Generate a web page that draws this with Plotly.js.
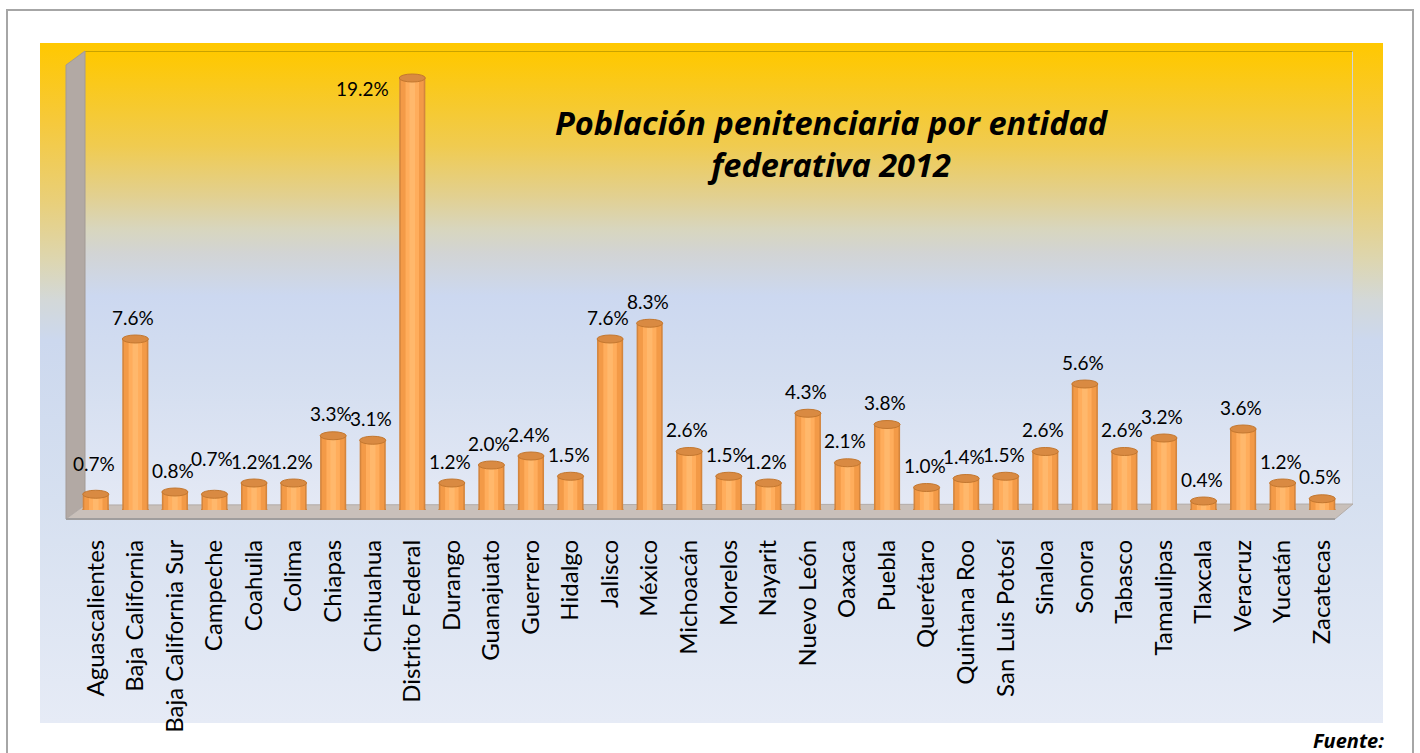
<!DOCTYPE html>
<html>
<head>
<meta charset="utf-8">
<script src="https://cdn.plot.ly/plotly-3.0.1.min.js"></script>
<style>
  html, body { margin: 0; padding: 0; background: #ffffff; }
  #frame { position: absolute; left: 6px; top: 9px; width: 1408px; height: 760px; border: 2px solid #a6a6a6; box-sizing: border-box; }
  #outerbg { position: absolute; left: 40px; top: 43px; width: 1343px; height: 680px;
    background: linear-gradient(to bottom, #ffc800 0px, #f6c93a 77px, #e9cf78 157px, #ddd6b0 217px, #d3d8d8 257px, #ccd8ee 297px, #d6e0f0 457px, #e6ebf6 680px); }
  #wallbg { position: absolute; left: 85px; top: 51px; width: 1268px; height: 454px;
    background: linear-gradient(to bottom, #ffc800 0px, #f0cb50 94px, #e2d090 144px, #d8d6be 177px, #d2d4d4 201px, #ccd8f0 244px, #d4def0 327px, #e4e9f5 454px);
    border-top: 1px solid #c9a200; border-right: 1px solid #cfd3da; box-sizing: border-box; }
  #chart { position: absolute; left: 0; top: 0; width: 1420px; height: 753px; }
</style>
</head>
<body>
<div id="frame"></div>
<div id="outerbg"></div>
<div id="wallbg"></div>
<div id="chart"></div>
<script>
// ---- data ----
const states = ["Aguascalientes", "Baja California", "Baja California Sur", "Campeche", "Coahuila", "Colima",
  "Chiapas", "Chihuahua", "Distrito Federal", "Durango", "Guanajuato", "Guerrero", "Hidalgo", "Jalisco",
  "México", "Michoacán", "Morelos", "Nayarit", "Nuevo León", "Oaxaca", "Puebla", "Querétaro",
  "Quintana Roo", "San Luis Potosí", "Sinaloa", "Sonora", "Tabasco", "Tamaulipas", "Tlaxcala",
  "Veracruz", "Yucatán", "Zacatecas"];
const share = [0.7, 7.6, 0.8, 0.7, 1.2, 1.2, 3.3, 3.1, 19.2, 1.2, 2.0, 2.4, 1.5, 7.6, 8.3, 2.6, 1.5, 1.2,
  4.3, 2.1, 3.8, 1.0, 1.4, 1.5, 2.6, 5.6, 2.6, 3.2, 0.4, 3.6, 1.2, 0.5];
const chartTitle = "<i><b>Población penitenciaria por entidad<br>federativa 2012</b></i>";
const sourceText = "<i><b>Fuente:</b></i>";

// ---- layout geometry (pixels) ----
const W = 1420, H = 753;
const M = {l: 76, r: 78, t: 60, b: 243};
const pw = W - M.l - M.r, ph = H - M.t - M.b;
const px = v => (v - M.l) / pw;
const py = v => (H - M.b - v) / ph;
const yMax = 20;
const unitsPerPx = yMax / ph;

const FONT = "Lato, 'Open Sans', sans-serif";
const TITLE_FONT = "'Open Sans', Lato, sans-serif";
const barW = 0.66;
const capH = 4 * unitsPerPx;

function bars(width, color) {
  return {type: 'bar', x: states, y: share, width: width, marker: {color: color, line: {width: 0}},
    hoverinfo: 'skip', showlegend: false};
}
const traces = [
  bars(barW, '#d4853d'),
  bars(barW - 0.08, '#f39a47'),
  bars(0.34, '#ffad5c'),
  bars(0.14, '#ffb86c')
];

const shapes = [];
// side wall
shapes.push({type: 'path', xref: 'paper', yref: 'paper', layer: 'below',
  path: `M ${px(66)} ${py(65)} L ${px(85)} ${py(51)} L ${px(85)} ${py(505)} L ${px(66)} ${py(519)} Z`,
  fillcolor: '#b2a9a4', line: {color: '#a39a95', width: 1}});
// floor
shapes.push({type: 'path', xref: 'paper', yref: 'paper', layer: 'below',
  path: `M ${px(85)} ${py(505)} L ${px(1353)} ${py(504)} L ${px(1335)} ${py(519)} L ${px(66)} ${py(519)} Z`,
  fillcolor: '#c9c0ba', line: {color: '#b3aca8', width: 1}});
shapes.push({type: 'line', xref: 'paper', yref: 'paper', layer: 'below',
  x0: px(66), x1: px(1335), y0: py(519), y1: py(519), line: {color: '#9f9d9d', width: 2}});
// cylinder bottoms and tops
share.forEach((v, i) => {
  shapes.push({type: 'circle', xref: 'x', yref: 'y', layer: 'below',
    x0: i - barW / 2, x1: i + barW / 2, y0: -capH, y1: capH,
    fillcolor: '#e08e42', line: {color: '#c8782f', width: 1}});
  shapes.push({type: 'circle', xref: 'x', yref: 'y', layer: 'above',
    x0: i - barW / 2, x1: i + barW / 2, y0: v - capH, y1: v + capH,
    fillcolor: '#d98a42', line: {color: '#c3772f', width: 1}});
});

// data labels
const maxV = Math.max(...share);
const nudge = {"Aguascalientes": 9, "Campeche": 14};
const annotations = share.map((v, i) => {
  const isMax = v === maxV;
  return {x: i, y: v, xref: 'x', yref: 'y', text: v.toFixed(1) + '%', showarrow: false,
    xshift: isMax ? -50 : -2, yshift: isMax ? -10 : 22 + (nudge[states[i]] || 0),
    font: {family: FONT, size: 19, color: '#000000'}};
});
annotations.push({xref: 'paper', yref: 'paper', x: px(1386), y: py(740), xanchor: 'right', yanchor: 'middle',
  text: sourceText, showarrow: false, font: {family: TITLE_FONT, size: 20, color: '#000000'}});

const layout = {
  width: W, height: H,
  margin: M,
  paper_bgcolor: 'rgba(0,0,0,0)', plot_bgcolor: 'rgba(0,0,0,0)',
  barmode: 'overlay',
  title: {text: chartTitle, xref: 'container', yref: 'container', x: 831 / W, xanchor: 'center',
    y: 1 - 135 / H, yanchor: 'middle',
    font: {family: TITLE_FONT, size: 32.5, color: '#000000'}},
  xaxis: {type: 'category', range: [-0.5, states.length - 0.5], tickangle: -90, ticks: '',
    ticklabelstandoff: 24, showgrid: false, zeroline: false, showline: false,
    tickfont: {family: FONT, size: 24, color: '#000000'}, fixedrange: true},
  yaxis: {range: [0, yMax], visible: false, showgrid: false, zeroline: false, fixedrange: true},
  shapes: shapes,
  annotations: annotations,
  showlegend: false
};

Plotly.newPlot('chart', traces, layout, {displayModeBar: false, staticPlot: true});
</script>
</body>
</html>
